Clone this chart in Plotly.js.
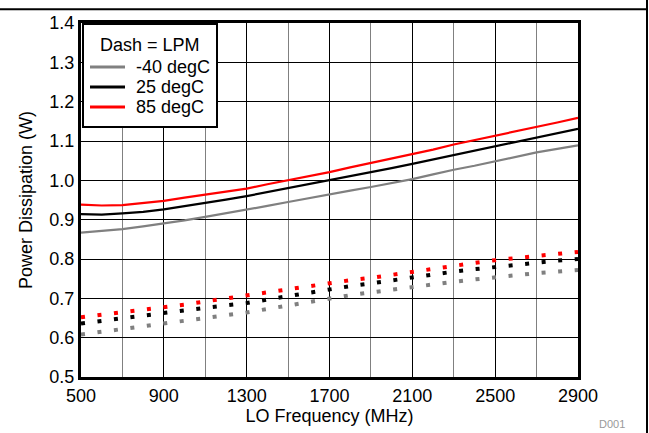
<!DOCTYPE html>
<html><head><meta charset="utf-8">
<script src="https://cdn.plot.ly/plotly-3.0.1.min.js"></script>
<style>html,body{margin:0;padding:0;background:#fff}#chart{width:649px;height:433px}</style>
</head><body><div id="chart"></div>
<script>
// LO frequency (MHz)
const freqMHz = [500,600,700,800,900,1000,1100,1200,1300,1400,1500,1600,1700,1800,1900,2000,2100,2200,2300,2400,2500,2600,2700,2800,2900];
// Normal mode power (W)
const pwrNeg40 = [0.867,0.871,0.876,0.883,0.890,0.898,0.907,0.916,0.926,0.935,0.945,0.955,0.965,0.974,0.983,0.993,1.003,1.015,1.027,1.037,1.048,1.060,1.071,1.080,1.089];
const pwr25    = [0.914,0.913,0.916,0.920,0.926,0.934,0.942,0.951,0.960,0.970,0.981,0.990,1.000,1.010,1.020,1.031,1.042,1.053,1.064,1.075,1.087,1.098,1.109,1.120,1.131];
const pwr85    = [0.938,0.936,0.937,0.942,0.948,0.956,0.964,0.971,0.979,0.990,1.000,1.010,1.021,1.033,1.044,1.055,1.066,1.078,1.091,1.102,1.113,1.124,1.136,1.147,1.159];
// Low power mode (LPM) power (W)
const lpmNeg40 = [0.608,0.615,0.621,0.628,0.636,0.643,0.650,0.657,0.664,0.673,0.682,0.691,0.700,0.708,0.715,0.722,0.730,0.736,0.742,0.748,0.754,0.759,0.764,0.768,0.772];
const lpm25    = [0.636,0.643,0.649,0.656,0.663,0.670,0.676,0.682,0.688,0.697,0.706,0.714,0.723,0.731,0.738,0.746,0.754,0.761,0.768,0.774,0.780,0.786,0.791,0.796,0.800];
const lpm85    = [0.652,0.658,0.664,0.670,0.677,0.684,0.692,0.700,0.707,0.715,0.723,0.731,0.739,0.746,0.752,0.760,0.768,0.775,0.783,0.790,0.797,0.803,0.809,0.813,0.818];
const seriesNames = ['-40 degC','25 degC','85 degC'];
const seriesColors = ['#808080','#000000','#ff0000'];
const legendTitle = 'Dash = LPM';
const xTickVals = [500,900,1300,1700,2100,2500,2900];

const FONT = 'Liberation Sans, Arial, sans-serif';
const W = 649, H = 433, L = 81, R = 71, T = 23, B = 56;
const pw = W - L - R, ph = H - T - B;
const px2x = p => (p - L) / pw;
const py2y = p => (H - B - p) / ph;

const normal = [pwrNeg40, pwr25, pwr85];
const lpm = [lpmNeg40, lpm25, lpm85];
const traces = [];
for (let i = 0; i < 3; i++) {
  traces.push({x: freqMHz, y: lpm[i], mode: 'lines', name: seriesNames[i] + ' LPM', showlegend: false,
    line: {color: seriesColors[i], width: 4, dash: '4px,12.6px'}, hoverinfo: 'skip'});
}
for (let i = 0; i < 3; i++) {
  traces.push({x: freqMHz, y: normal[i], mode: 'lines', name: seriesNames[i], showlegend: false,
    line: {color: seriesColors[i], width: 2.2}});
}

// Legend box drawn with shapes + annotations (tight line spacing like the reference)
const shapes = [
  {type: 'rect', xref: 'paper', yref: 'paper', x0: px2x(83), x1: px2x(217), y0: py2y(127), y1: py2y(24),
   line: {color: '#000', width: 2}, fillcolor: '#fff', layer: 'above'},
  {type: 'line', xref: 'paper', yref: 'paper', x0: px2x(0), x1: px2x(647), y0: py2y(9.3), y1: py2y(9.3), line: {color: '#000', width: 2}},
  {type: 'line', xref: 'paper', yref: 'paper', x0: px2x(647), x1: px2x(647), y0: py2y(0), y1: py2y(433), line: {color: '#000', width: 2}}
];
const annotations = [
  {text: legendTitle, xref: 'paper', yref: 'paper', x: px2x(150), y: py2y(45), xanchor: 'center', yanchor: 'middle', showarrow: false,
   font: {family: FONT, size: 18, color: '#000'}},
  {text: 'D001', xref: 'paper', yref: 'paper', x: px2x(612), y: py2y(424), xanchor: 'center', yanchor: 'middle', showarrow: false,
   font: {family: FONT, size: 11, color: '#999'}}
];
const legendY = [67, 87, 107];
for (let i = 0; i < 3; i++) {
  shapes.push({type: 'line', xref: 'paper', yref: 'paper', x0: px2x(90), x1: px2x(125), y0: py2y(legendY[i]), y1: py2y(legendY[i]),
    line: {color: seriesColors[i], width: 3}, layer: 'above'});
  annotations.push({text: seriesNames[i], xref: 'paper', yref: 'paper', x: px2x(134), y: py2y(legendY[i]), xanchor: 'left', yanchor: 'middle',
    showarrow: false, font: {family: FONT, size: 18, color: '#000'}});
}

const layout = {
  width: W, height: H,
  margin: {l: L, r: R, t: T, b: B, pad: 0},
  paper_bgcolor: '#fff', plot_bgcolor: '#fff',
  font: {family: FONT, size: 18, color: '#000'},
  showlegend: false,
  xaxis: {
    range: [500, 2900], tickvals: xTickVals, ticktext: xTickVals.map(String),
    showgrid: true, gridcolor: '#000', gridwidth: 1,
    minor: {dtick: 200, tick0: 500, showgrid: true, gridcolor: '#808080', gridwidth: 1, ticks: ''},
    showline: true, linecolor: '#000', linewidth: 3, mirror: true,
    zeroline: false, ticks: '', tickfont: {family: FONT, size: 18, color: '#000'},
    title: {text: 'LO Frequency (MHz)', font: {family: FONT, size: 18, color: '#000'}, standoff: 5}
  },
  yaxis: {
    range: [0.5, 1.4], dtick: 0.1, tick0: 0.5, tickformat: '.1f',
    showgrid: true, gridcolor: '#000', gridwidth: 1,
    showline: true, linecolor: '#000', linewidth: 3, mirror: true,
    zeroline: false, ticks: '', tickfont: {family: FONT, size: 18, color: '#000'},
    title: {text: 'Power Dissipation (W)', font: {family: FONT, size: 18, color: '#000'}, standoff: 13}
  },
  shapes: shapes,
  annotations: annotations
};
Plotly.newPlot('chart', traces, layout, {displayModeBar: false, staticPlot: true});
</script></body></html>
